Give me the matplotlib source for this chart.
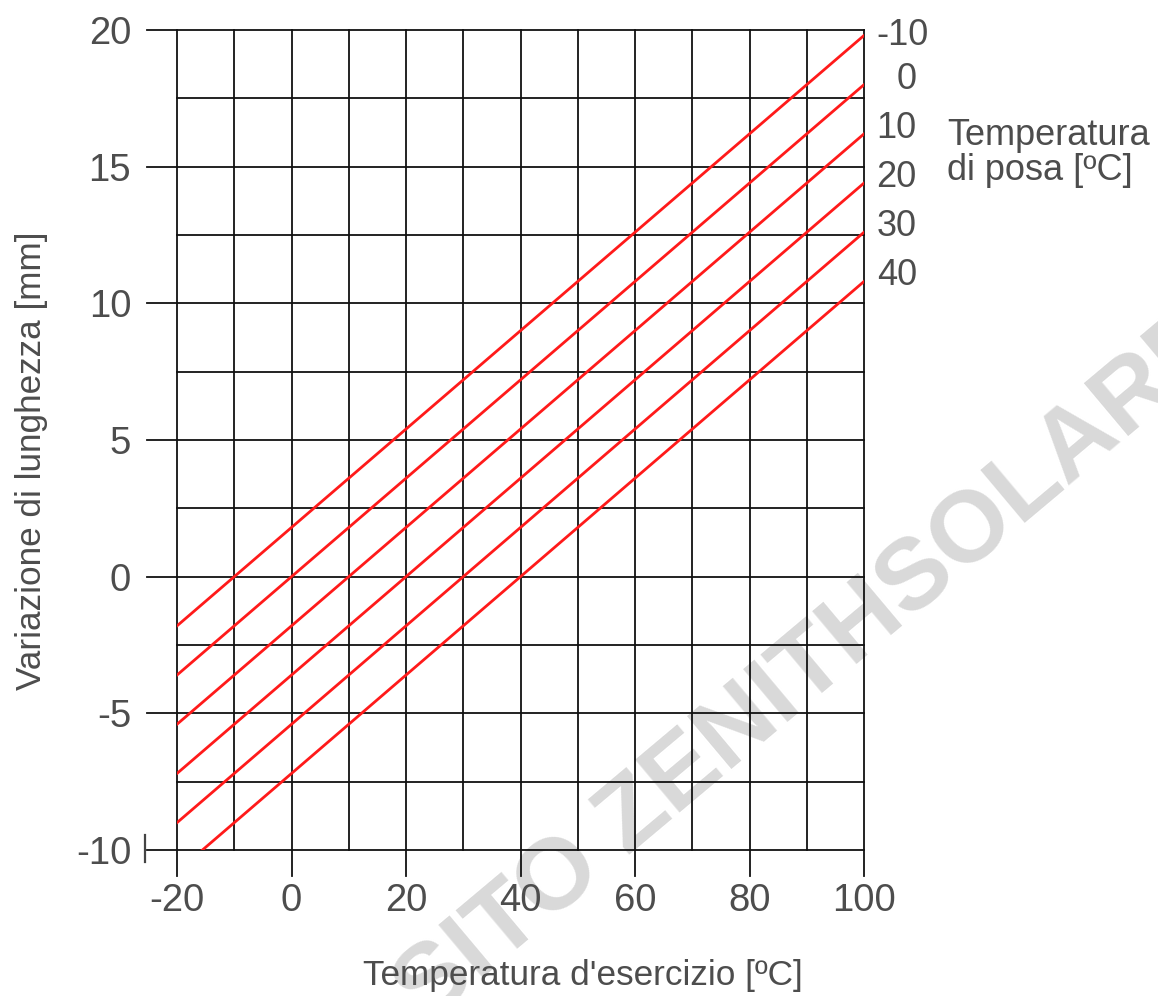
import numpy as np
import matplotlib.pyplot as plt

# =====================================
# Data
# =====================================

# temperatura di posa [C] of each red line
t_posa = [-10, 0, 10, 20, 30, 40]
posa_labels = ["-10", "0", "10", "20", "30", "40"]

# each line read at both ends of the x range
t_start = -20
t_end = 100
dl_start = [-1.8, -3.6, -5.4, -7.2, -9.0, -10.8]
dl_end = [19.8, 18.0, 16.2, 14.4, 12.6, 10.8]

x_ticks = [-20, 0, 20, 40, 60, 80, 100]
y_ticks = [-10, -5, 0, 5, 10, 15, 20]
x_grid = [-20, -10, 0, 10, 20, 30, 40, 50, 60, 70, 80, 90, 100]
y_grid = [-10, -7.5, -5, -2.5, 0, 2.5, 5, 7.5, 10, 12.5, 15, 17.5, 20]

# =====================================
# Figure
# =====================================

plt.rcParams['font.family'] = ['Liberation Sans', 'DejaVu Sans']

text_col = "#4d4d4d"
grid_col = "#111111"

fig = plt.figure(figsize=(11.58, 9.96), dpi=100)

ax = fig.add_axes([177 / 1158, 146 / 996, 687 / 1158, 820 / 996])
ax.patch.set_alpha(0)

ax.set_xlim(-20, 100)
ax.set_ylim(-10, 20)

for s in ax.spines.values():
    s.set_visible(False)

# =====================================
# Grid (major lines run out as ticks)
# =====================================

for gx in x_grid:
    y0 = -10.95 if gx % 20 == 0 else -10
    ax.plot([gx, gx], [y0, 20], color=grid_col, lw=1.3, clip_on=False, zorder=2)

for gy in y_grid:
    x0 = -25.2 if gy % 5 == 0 else -20
    ax.plot([x0, 100], [gy, gy], color=grid_col, lw=1.3, clip_on=False, zorder=2)

# little piece of axis left at the bottom
ax.plot([-25.6, -25.6], [-9.45, -10.45], color="#444444", lw=1.6, clip_on=False)

# =====================================
# Lines
# =====================================

for i in range(len(t_posa)):
    ax.plot([t_start, t_end], [dl_start[i], dl_end[i]],
            color="#ff1a1a", lw=2.0, zorder=3)

    if posa_labels[i].startswith("-"):
        ax.annotate(posa_labels[i], (t_end, dl_end[i]),
                    xytext=(9, 0), textcoords="offset points",
                    ha="left", va="center", fontsize=26, color=text_col,
                    annotation_clip=False)
    else:
        ax.annotate(posa_labels[i], (t_end, dl_end[i]),
                    xytext=(38, 4), textcoords="offset points",
                    ha="right", va="center", fontsize=26, color=text_col,
                    annotation_clip=False)

fig.text(947 / 1158, 1 - 118 / 996, "Temperatura\ndi posa [ºC]",
         ha="left", va="top", fontsize=26, color=text_col, linespacing=1.0)

# =====================================
# Ticks and labels
# =====================================

ax.set_xticks(x_ticks)
ax.set_xticklabels([str(v) for v in x_ticks])
ax.set_yticks(y_ticks)
ax.set_yticklabels([str(v) for v in y_ticks])

ax.tick_params(axis="both", length=0, labelsize=27.5, labelcolor=text_col)
ax.tick_params(axis="x", pad=24)
ax.tick_params(axis="y", pad=33)

fig.text(583 / 1158, 1 - 985 / 996, "Temperatura d'esercizio [ºC]",
         ha="center", va="baseline", fontsize=25.3, color=text_col)

fig.text(32 / 1158, 1 - 461 / 996, "Variazione di lunghezza [mm]",
         ha="center", va="center", rotation=90, fontsize=25.3, color=text_col)

# =====================================
# Watermark
# =====================================

fig.text(812 / 1158, 1 - 668 / 996, "SITO ZENITHSOLARE",
         ha="center", va="center", rotation=40, rotation_mode="anchor",
         fontsize=73, fontweight="bold", color="#d9d9d9", zorder=-1)

fig.savefig("out.png", dpi=100)
